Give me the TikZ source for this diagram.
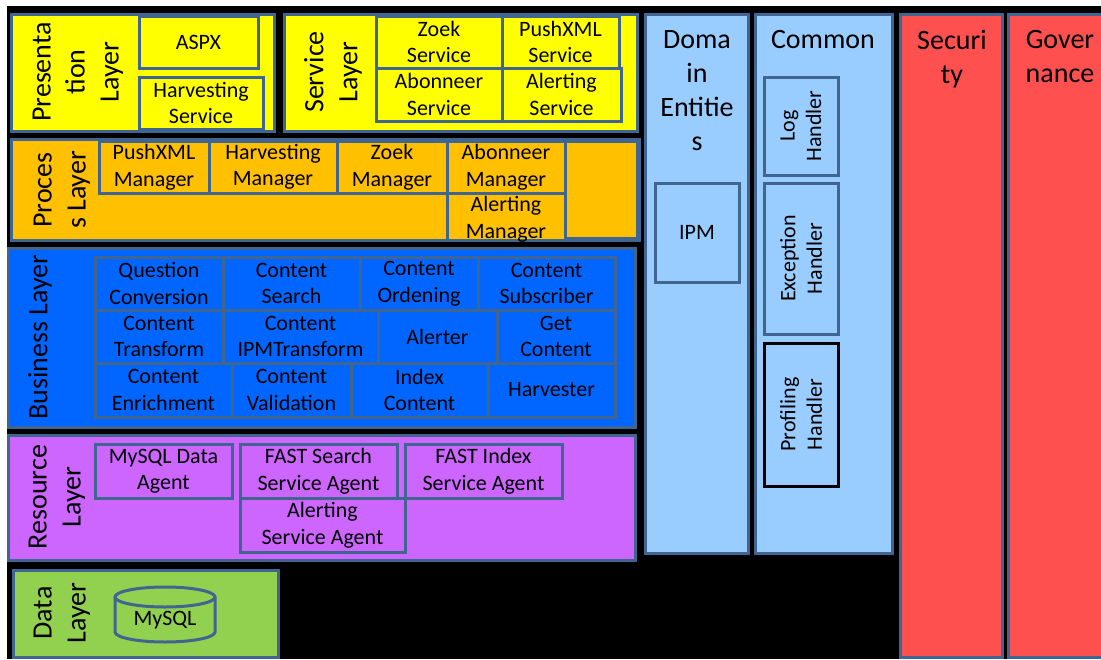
\documentclass[tikz,border=0pt]{standalone}
\usepackage{fontspec}
\setmainfont{Carlito}
\definecolor{edge}{HTML}{3F6590}
\definecolor{pres}{HTML}{FFFF00}
\definecolor{proc}{HTML}{FFC000}
\definecolor{busi}{HTML}{0066FF}
\definecolor{reso}{HTML}{CC66FF}
\definecolor{dat}{HTML}{92D050}
\definecolor{side}{HTML}{99CCFF}
\definecolor{secu}{HTML}{FF5050}
\tikzset{
  bord/.style={draw=edge, line width=3pt, inner sep=0pt, outer sep=0pt},
  txt/.style={font=\fontsize{22pt}{26.5pt}\selectfont, align=center, inner sep=0pt, text=black},
  big/.style={font=\fontsize{28pt}{34pt}\selectfont, align=center, inner sep=0pt, text=black},
}
% box from (x1,y1) to (x2,y2) with a centred caption
\newcommand\archbox[7]{%
  \node[bord, fill=#6, minimum width={(#4)-(#2)}, minimum height={(#5)-(#3)}]
    (#1) at ({((#2)+(#4))/2},{((#3)+(#5))/2}) {};
  \node[txt] (#1-t) at (#1.center) {#7};}
% same, caption turned upright
\newcommand\archrbox[7]{%
  \node[bord, fill=#6, minimum width={(#4)-(#2)}, minimum height={(#5)-(#3)}]
    (#1) at ({((#2)+(#4))/2},{((#3)+(#5))/2}) {};
  \node[txt, rotate=90] (#1-t) at (#1.center) {#7};}
% plain frame without caption
\newcommand\archframe[6]{%
  \node[bord, fill=#6, minimum width={(#4)-(#2)}, minimum height={(#5)-(#3)}]
    (#1) at ({((#2)+(#4))/2},{((#3)+(#5))/2}) {};}
\begin{document}
\begin{tikzpicture}[x=1pt,y=-1pt]
\useasboundingbox (0,0) rectangle (1101,659);
\fill[white] (0,0) rectangle (1101,659);
\fill[black] (7,6) rectangle (1101,659);

% ---- Presentation layer
\archframe{presL}{11}{14}{274}{131}{pres}
\node[big, rotate=90] (presL-t) at (78,72) {Presenta\\tion\\Layer};
\archbox{aspx}{139}{16}{258}{68}{pres}{ASPX}
\archbox{harvS}{139}{77}{263}{129}{pres}{Harvesting\\Service}

% ---- Service layer
\archframe{servL}{284}{14}{637}{131}{pres}
\node[big, rotate=90] (servL-t) at (333,72) {Service\\Layer};
\archbox{zoekS}{376}{16}{502}{68}{pres}{Zoek\\Service}
\archbox{pushS}{502}{16}{619}{68}{pres}{PushXML\\Service}
\archbox{aboS}{376}{68}{502}{121}{pres}{Abonneer\\Service}
\archbox{alertS}{502}{68}{621}{121}{pres}{Alerting\\Service}

% ---- Process layer
\archframe{procL}{11}{139}{639}{240}{proc}
\node[big, rotate=90] (procL-t) at (62,190) {Proces\\s Layer};
\archbox{pushM}{99}{141}{209}{193}{proc}{PushXML\\Manager}
\archbox{harvM}{209}{141}{337}{193}{proc}{Harvesting\\Manager}
\archbox{zoekM}{337}{141}{447}{193}{proc}{Zoek\\Manager}
\archbox{aboM}{447}{141}{565}{193}{proc}{Abonneer\\Manager}
\archframe{alertM}{447}{193}{565}{240}{proc}
\node[txt] (alertM-t) at (506,219) {Alerting\\Manager};
\archframe{procX}{565}{141}{637}{238}{proc}

% ---- Business layer
\archframe{busL}{8}{248}{635}{427}{busi}
\node[big, rotate=90] (busL-t) at (40,337) {Business Layer};
\archbox{qconv}{95}{257}{223}{310}{busi}{Question\\Conversion}
\archbox{csearch}{223}{257}{360}{310}{busi}{Content\\Search}
\archbox{cord}{360}{257}{478}{310}{busi}{Content\\Ordening}
\archbox{csub}{478}{257}{615}{310}{busi}{Content\\Subscriber}
\archbox{ctrans}{95}{310}{223}{363}{busi}{Content\\Transform}
\archbox{cipm}{223}{310}{378}{363}{busi}{Content\\IPMTransform}
\archbox{alerter}{378}{310}{497}{363}{busi}{Alerter}
\archbox{getc}{497}{310}{615}{363}{busi}{Get\\Content}
\archbox{cenr}{95}{363}{232}{417}{busi}{Content\\Enrichment}
\archbox{cval}{232}{363}{351}{417}{busi}{Content\\Validation}
\archbox{idxc}{351}{363}{488}{417}{busi}{Index\\Content}
\archbox{harvester}{488}{363}{615}{417}{busi}{Harvester}

% ---- Resource layer
\archframe{resL}{8}{435}{635}{560}{reso}
\node[big, rotate=90] (resL-t) at (57,497) {Resource\\Layer};
\archbox{mysqlA}{95}{444}{232}{498}{reso}{MySQL Data\\Agent}
\archbox{fastS}{240}{444}{397}{498}{reso}{FAST Search\\Service Agent}
\archbox{fastI}{405}{444}{562}{498}{reso}{FAST Index\\Service Agent}
\archbox{alertA}{240}{498}{405}{552}{reso}{Alerting\\Service Agent}

% ---- Data layer
\archframe{datL}{13}{570}{278}{657}{dat}
\node[big, rotate=90] (datL-t) at (62,613) {Data\\Layer};
\fill[dat] (115,597) -- (115,632) arc[start angle=180, end angle=360, x radius=50pt, y radius=10pt] -- (215,597) -- cycle;
\draw[edge, line width=3pt] (115,597) -- (115,632) arc[start angle=180, end angle=360, x radius=50pt, y radius=10pt] -- (215,597);
\draw[edge, line width=3pt, fill=dat] (165,597) ellipse[x radius=50pt, y radius=10pt];
\node[txt] (mysql) at (165,620) {MySQL};

% ---- Domain entities
\archframe{domL}{645}{14}{748}{553}{side}
\node[big, anchor=north] (domL-t) at (697,30) {Doma\\in\\Entitie\\s};
\archbox{ipm}{655}{183}{739}{282}{side}{IPM}

% ---- Common
\archframe{comL}{755}{14}{892}{553}{side}
\node[big, anchor=north] (comL-t) at (823,30) {Common};
\archrbox{logH}{764}{77}{838}{175}{side}{Log\\Handler}
\archrbox{excH}{764}{183}{838}{334}{side}{Exception\\Handler}
\archrbox{profH}{764}{343}{838}{486}{side}{Profiling\\Handler}
\draw[black, line width=3pt] (profH.north west) rectangle (profH.south east);

% ---- Security and governance
\archframe{secL}{900}{14}{1002}{657}{secu}
\node[big, anchor=north] (secL-t) at (952,30) {Securi\\ty};
\archframe{govL}{1008}{14}{1106}{657}{secu}
\node[big, anchor=north] (govL-t) at (1060,30) {Gover\\nance};
\end{tikzpicture}
\end{document}
